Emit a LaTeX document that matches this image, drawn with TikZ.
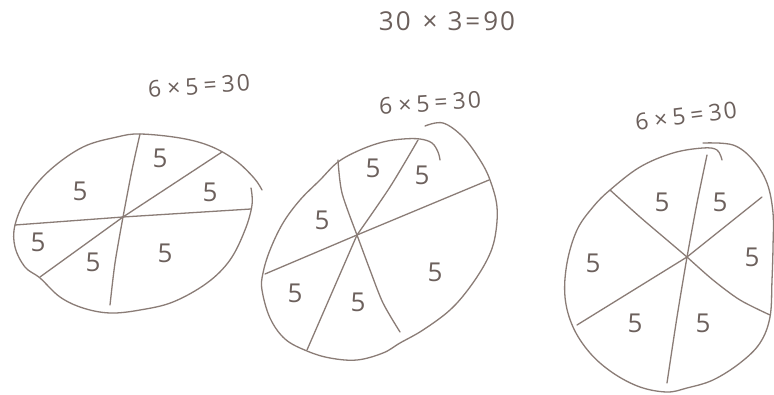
\documentclass[tikz,border=0pt]{standalone}
\usepackage{fontspec}
\setmainfont{Open Sans}
\definecolor{penc}{RGB}{138,124,118}
\definecolor{inkc}{RGB}{108,96,92}
\begin{document}
\begin{tikzpicture}[x=1pt,y=-1pt,
  pen/.style={draw=penc, line width=1.3pt, line cap=round, line join=round},
  five/.style={text=inkc, font=\fontsize{26}{26}\selectfont, inner sep=0pt},
  eq/.style={text=inkc, font=\fontsize{23}{23}\selectfont, inner sep=0pt}]
\useasboundingbox (0,0) rectangle (774,395);
\fill[white] (0,0) rectangle (774,395);

% ---------- labels ----------
\node[eq, font=\fontsize{26}{26}\selectfont] (total) at (447,21)
  {3\hspace{2pt}0\hspace{12pt}×\hspace{10pt}3\hspace{3pt}=\hspace{3pt}9\hspace{2pt}0};
\node[eq, rotate=4] (lab1) at (199,86)
  {6\hspace{6pt}×\hspace{5pt}5\hspace{5pt}=\hspace{5pt}3\hspace{2pt}0};
\node[eq, rotate=3.5] (lab2) at (430,103)
  {6\hspace{6pt}×\hspace{5pt}5\hspace{5pt}=\hspace{5pt}3\hspace{2pt}0};
\node[eq, rotate=7] (lab3) at (686,116)
  {6\hspace{6pt}×\hspace{5pt}5\hspace{5pt}=\hspace{5pt}3\hspace{2pt}0};

% ---------- circle 1 ----------
\coordinate (c1) at (123,217);
\draw[pen] plot[smooth, tension=0.6] coordinates {
  (262,190) (254,178) (235,160) (210,146) (180,138) (140,134) (117,137)
  (83,147) (50,170) (27,197) (15,225) (15,247) (25,267) (40,278) (60,297)
  (83,308) (110,313) (140,310) (173,302) (207,283) (230,260) (245,230)
  (252,205) (251,188)};
\coordinate (a1) at (140,134);
\coordinate (a2) at (110,305);
\coordinate (a3) at (15,225);
\coordinate (a4) at (251,209);
\coordinate (a5) at (222,152);
\coordinate (a6) at (40,277);
\draw[pen] plot[smooth] coordinates {(a1) (132,170) (c1)};
\draw[pen] plot[smooth] coordinates {(c1) (115,263) (a2)};
\draw[pen] (a3) -- (c1) -- (a4);
\draw[pen] (a5) -- (c1) -- (a6);
\node[five] (f11) at (80,191) {5};
\node[five] (f12) at (160,158) {5};
\node[five] (f13) at (210,192) {5};
\node[five] (f14) at (38,242) {5};
\node[five] (f15) at (93,262) {5};
\node[five] (f16) at (165,253) {5};

% ---------- circle 2 ----------
\coordinate (c2) at (357,235);
\draw[pen] plot[smooth, tension=0.6] coordinates {
  (425,126) (443,123) (463,137) (480,160) (490,180) (497,207) (495,237)
  (487,260) (470,287) (450,310) (423,330) (400,343) (383,353) (357,360)
  (330,358) (307,351) (285,339) (270,318) (262,290) (263,273) (270,250)
  (283,223) (300,200) (320,180) (338,162) (360,150) (383,142) (403,139)
  (420,139) (432,143) (438,152) (440,160)};
\coordinate (b1) at (338,160);
\coordinate (b2) at (418,140);
\coordinate (b3) at (489,180);
\coordinate (b4) at (265,274);
\coordinate (b5) at (307,350);
\coordinate (b6) at (400,332);
\draw[pen] plot[smooth] coordinates {(b1) (342,193) (c2)};
\draw[pen] plot[smooth] coordinates {(b2) (390,187) (c2)};
\draw[pen] (b4) -- (c2) -- (b3);
\draw[pen] (c2) -- (b5);
\draw[pen] plot[smooth] coordinates {(c2) (370,270) (383,303) (b6)};
\node[five] (f21) at (322,220) {5};
\node[five] (f22) at (373,168) {5};
\node[five] (f23) at (422,175) {5};
\node[five] (f24) at (295,293) {5};
\node[five] (f25) at (358,302) {5};
\node[five] (f26) at (435,272) {5};

% ---------- circle 3 ----------
\coordinate (c3) at (687,257);
\draw[pen] plot[smooth, tension=0.6] coordinates {
  (703,143) (733,145) (753,160) (767,183) (773,213) (773,247) (772,280)
  (770,317) (760,343) (740,363) (713,380) (687,388) (667,392) (640,387)
  (613,373) (590,353) (573,327) (565,297) (567,263) (577,230) (593,207)
  (610,190) (640,167) (673,153) (703,148) (717,150) (722,160)};
\coordinate (d1) at (707,155);
\coordinate (d2) at (610,190);
\coordinate (d3) at (762,197);
\coordinate (d4) at (770,315);
\coordinate (d5) at (577,325);
\coordinate (d6) at (667,383);
\draw[pen] plot[smooth] coordinates {(d1) (697,203) (c3)};
\draw[pen] plot[smooth] coordinates {(d2) (640,217) (667,240) (c3)};
\draw[pen] (d3) -- (c3) -- (d5);
\draw[pen] plot[smooth] coordinates {(c3) (713,280) (740,300) (d4)};
\draw[pen] plot[smooth] coordinates {(c3) (677,317) (d6)};
\node[five] (f31) at (662,202) {5};
\node[five] (f32) at (720,202) {5};
\node[five] (f33) at (752,257) {5};
\node[five] (f34) at (593,263) {5};
\node[five] (f35) at (635,323) {5};
\node[five] (f36) at (703,323) {5};
\end{tikzpicture}
\end{document}
